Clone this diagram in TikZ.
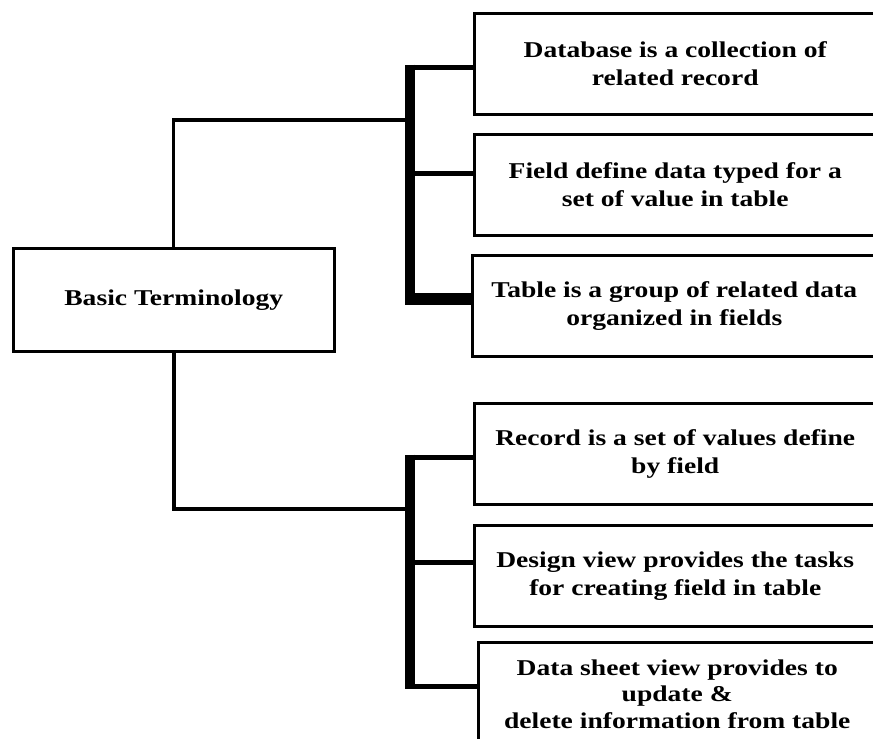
\documentclass[tikz,border=0pt]{standalone}
\usepackage{fontspec}
\newfontfamily\tfont[FakeStretch=1.22]{Liberation Serif}
\begin{document}
\begin{tikzpicture}[x=1pt,y=-1pt,
  tbox/.style={draw=black, line width=2.5pt, inner sep=0pt, align=center,
    anchor=north west, minimum width=402pt, minimum height=101pt,
    font={\tfont\bfseries\fontsize{22.6}{28}\selectfont}},
  spine/.style={line width=10pt, line cap=butt},
  branch/.style={line width=5pt, line cap=butt},
  link/.style={line width=3.2pt, line cap=butt}]
\useasboundingbox (0,0) rectangle (873,739);
\clip (0,0) rectangle (873,739);
\fill[white] (0,0) rectangle (873,739);

% boxes
\node[tbox, minimum width=321pt, minimum height=103pt] (basic) at (12,247) {Basic Terminology};
\node[tbox] (b1) at (473,12) {Database is a collection of\\related record};
\node[tbox] (b2) at (473,133) {Field define data typed for a\\set of value in table};
\node[tbox, minimum width=404pt] (b3) at (471,254) {Table is a group of related data\\organized in fields};
\node[tbox] (b4) at (473,402) {Record is a set of values define\\by field};
\node[tbox] (b5) at (473,524) {Design view provides the tasks\\for creating field in table};
\node[tbox, minimum width=398pt, minimum height=104pt,
  font={\tfont\bfseries\fontsize{22.6}{26.5}\selectfont}] (b6) at (477,641)
  {Data sheet view provides to\\update \&\\delete information from table};

% upper bracket
\coordinate (ut) at (410,64.5);
\coordinate (ub) at (410,305);
\coordinate (u1) at (410,67);
\coordinate (u2) at (410,173);
\coordinate (u3) at (410,298.5);
\coordinate (uj) at (410,120);
\draw[spine] (ut) -- (ub);
\draw[branch] (u1) -- (u1 -| b1.west);
\draw[branch] (u2) -- (u2 -| b2.west);
\draw[branch, line width=12pt] (u3) -- (u3 -| b3.west);
\draw[link] (basic.north) |- (uj);

% lower bracket
\coordinate (lt) at (410,454.5);
\coordinate (lb) at (410,689);
\coordinate (l1) at (410,457);
\coordinate (l2) at (410,562);
\coordinate (l3) at (410,686.5);
\coordinate (lj) at (410,509);
\draw[spine] (lt) -- (lb);
\draw[branch] (l1) -- (l1 -| b4.west);
\draw[branch] (l2) -- (l2 -| b5.west);
\draw[branch] (l3) -- (l3 -| b6.west);
\draw[link, line width=4pt] (basic.south) |- (lj);
\end{tikzpicture}
\end{document}
